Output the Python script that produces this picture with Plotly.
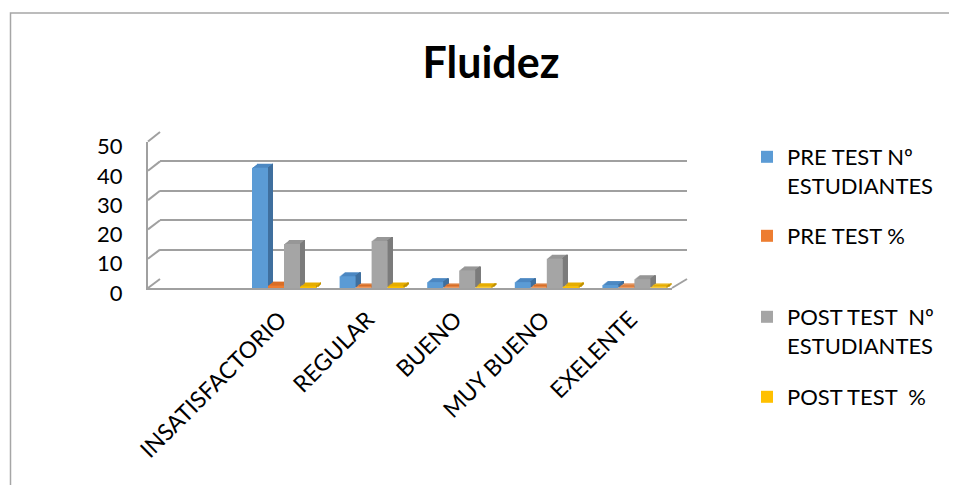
import plotly.graph_objects as go

categories = ["INSATISFACTORIO", "REGULAR", "BUENO", "MUY BUENO", "EXELENTE"]
pre_n = [41, 4, 2, 2, 1]
pre_pct = [0.82, 0.08, 0.04, 0.04, 0.02]
post_n = [15, 16, 6, 10, 3]
post_pct = [0.30, 0.32, 0.12, 0.20, 0.06]
series_names = ["PRE TEST Nº<br>ESTUDIANTES", "PRE TEST %",
                "POST TEST  Nº<br>ESTUDIANTES", "POST TEST  %"]
series_values = [pre_n, pre_pct, post_n, post_pct]
front_colors = ["#5B9BD5", "#ED7D31", "#A5A5A5", "#FFC000"]
top_colors = ["#4C88C2", "#D96E27", "#979797", "#E6AD00"]
side_colors = ["#3F6F9E", "#B05A20", "#7B7B7B", "#BF9000"]
y_ticks = [0, 10, 20, 30, 40, 50]

W, H = 957, 485
OFF = 8  # page body margin
FONT = "Lato, 'Open Sans', sans-serif"
GRID = "#A0A0A0"


def fx(px):  # reference pixel x -> paper
    return (px - OFF) / W


def fy(py):  # reference pixel y -> paper
    return 1 - (py - OFF) / H


# front (bars) frame, reference pixels
F_L, F_R, F_Y0, F_Y50 = 148, 672, 288, 141.5
# back wall frame
B_L, B_R, B_Y0, B_Y50 = 160, 687, 279, 132
SLOT = 87.6
X0 = -(284 - F_L) / SLOT
X1 = X0 + (F_R - F_L) / SLOT
BW = 16 / SLOT            # bar width in category units
DX = 5 / SLOT             # depth, x
DY = 4 * 50 / (F_Y0 - F_Y50)  # depth, y (value units)
N = 5

fig = go.Figure()
# back-wall subplot (gridlines only)
fig.add_trace(go.Scatter(x=[], y=[], xaxis="x", yaxis="y", showlegend=False, hoverinfo="skip"))

xidx = list(range(len(categories)))
for i, (name, vals, fc, tc, sc) in enumerate(zip(series_names, series_values,
                                                  front_colors, top_colors, side_colors)):
    off = -2 * BW + i * BW
    # top face (staircase)
    for k in range(N, 0, -1):
        fig.add_trace(go.Bar(x=xidx, y=vals, base=[k * DY / N] * len(vals),
                             offset=off + k * DX / N, width=BW, marker_color=tc,
                             marker_line_width=0, xaxis="x2", yaxis="y2",
                             showlegend=False, hoverinfo="skip"))
    # side face (staircase)
    for k in range(1, N + 1):
        fig.add_trace(go.Bar(x=xidx, y=vals, base=[k * DY / N] * len(vals),
                             offset=off + BW + (k - 1) * DX / N, width=DX / N,
                             marker_color=sc, marker_line_width=0,
                             xaxis="x2", yaxis="y2", showlegend=False, hoverinfo="skip"))
    # front face
    lg = "legend" if i == 0 else f"legend{i+1}"
    fig.add_trace(go.Bar(x=xidx, y=vals, offset=off, width=BW, name=name,
                         marker_color=fc, marker_line_width=0,
                         xaxis="x2", yaxis="y2", legend=lg))

legend_line1 = [157, 236, 317, 397]
legends = {}
for i, yy in enumerate(legend_line1):
    key = "legend" if i == 0 else f"legend{i+1}"
    legends[key] = dict(
        x=fx(747), xanchor="left", y=fy(yy - 21), yanchor="top",
        font=dict(family=FONT, size=22, color="#000000"),
        bgcolor="rgba(0,0,0,0)", valign="top", itemclick=False, tracegroupgap=0,
    )

fig.update_layout(
    width=W, height=H,
    margin=dict(l=0, r=0, t=0, b=0, autoexpand=False),
    paper_bgcolor="white", plot_bgcolor="rgba(0,0,0,0)",
    barmode="overlay",
    title=dict(text="<b>Fluidez</b>", x=(491 - OFF) / W, xref="container", xanchor="center",
               y=1 - (62.5 - OFF) / H, yref="container", yanchor="middle",
               font=dict(family=FONT, size=43, color="#000000")),
    font=dict(family=FONT, color="#000000"),
    showlegend=True,
    xaxis=dict(domain=[fx(B_L), fx(B_R)], range=[0, 1], visible=False, anchor="y"),
    yaxis=dict(domain=[fy(B_Y0), fy(B_Y50)], range=[0, 50], tickvals=y_ticks,
               showticklabels=False, showgrid=True, gridcolor=GRID, gridwidth=2,
               zeroline=False, showline=False, ticks="", anchor="x"),
    xaxis2=dict(domain=[fx(F_L), fx(F_R)], range=[X0, X1], anchor="y2",
                tickmode="array", tickvals=xidx, ticktext=categories,
                showgrid=False, zeroline=False, showline=True, linecolor=GRID, linewidth=2,
                tickangle=-45, ticks="",
                tickfont=dict(family=FONT, size=23, color="#000000"),
                ticklabelshift=-4, ticklabelstandoff=7),
    yaxis2=dict(domain=[fy(F_Y0), fy(F_Y50)], range=[0, 50], anchor="x2",
                tickvals=y_ticks, ticktext=[str(v) for v in y_ticks],
                showgrid=False, zeroline=False, showline=True, linecolor=GRID, linewidth=2,
                ticks="", tickfont=dict(family=FONT, size=22, color="#000000"),
                ticklabelstandoff=19, ticklabelshift=5),
    **legends,
)

# slanted left-wall connectors and right floor corner
for v in y_ticks:
    y_front = F_Y0 - v * (F_Y0 - F_Y50) / 50
    y_back = B_Y0 - v * (B_Y0 - B_Y50) / 50
    fig.add_shape(type="line", xref="paper", yref="paper",
                  x0=fx(F_L), y0=fy(y_front), x1=fx(B_L), y1=fy(y_back),
                  line=dict(color=GRID, width=2), layer="below")
fig.add_shape(type="line", xref="paper", yref="paper",
              x0=fx(F_R), y0=fy(F_Y0), x1=fx(B_R), y1=fy(B_Y0),
              line=dict(color=GRID, width=2), layer="below")

# outer chart border (continues past the visible canvas on the right and bottom)
fig.add_shape(type="rect", xref="paper", yref="paper",
              x0=fx(10.5), x1=fx(W + 40), y0=fy(H + 40), y1=fy(13),
              line=dict(color="#A6A6A6", width=1.5), fillcolor="rgba(0,0,0,0)", layer="below")

fig.write_html("out.html")
